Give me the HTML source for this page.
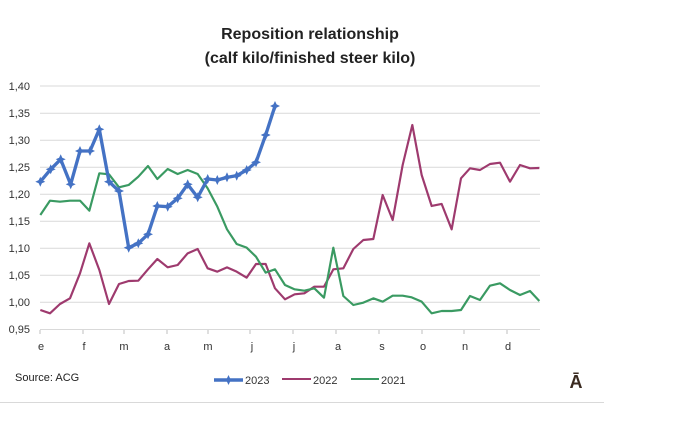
<!DOCTYPE html>
<html><head><meta charset="utf-8"><style>
html,body{margin:0;padding:0;background:#fff;}
svg{display:block;font-family:"Liberation Sans",Arial,sans-serif;}
</style></head><body>
<svg width="698" height="425" viewBox="0 0 698 425" xmlns="http://www.w3.org/2000/svg">
<defs>
<path id="d" d="M0,-5 L1.6,-1.6 L5,0 L1.6,1.6 L0,5 L-1.6,1.6 L-5,0 L-1.6,-1.6Z"/>
</defs>
<text x="310" y="39" text-anchor="middle" font-size="16" font-weight="bold" fill="#222">Reposition relationship</text>
<text x="310" y="63" text-anchor="middle" font-size="16" font-weight="bold" fill="#222">(calf kilo/finished steer kilo)</text>
<g stroke="#d9d9d9" stroke-width="1">
<line x1="40" x2="540" y1="86" y2="86"/><line x1="40" x2="540" y1="113.3" y2="113.3"/>
<line x1="40" x2="540" y1="140.3" y2="140.3"/><line x1="40" x2="540" y1="167.3" y2="167.3"/>
<line x1="40" x2="540" y1="194.3" y2="194.3"/><line x1="40" x2="540" y1="221.3" y2="221.3"/>
<line x1="40" x2="540" y1="248.3" y2="248.3"/><line x1="40" x2="540" y1="275.3" y2="275.3"/>
<line x1="40" x2="540" y1="302.3" y2="302.3"/><line x1="40" x2="540" y1="329.5" y2="329.5"/>
<g stroke="#bfbfbf"><line x1="40" x2="40" y1="330" y2="334"/><line x1="83" x2="83" y1="330" y2="334"/><line x1="124" x2="124" y1="330" y2="334"/><line x1="167" x2="167" y1="330" y2="334"/><line x1="208" x2="208" y1="330" y2="334"/><line x1="250" x2="250" y1="330" y2="334"/><line x1="293" x2="293" y1="330" y2="334"/><line x1="336" x2="336" y1="330" y2="334"/><line x1="379" x2="379" y1="330" y2="334"/><line x1="422" x2="422" y1="330" y2="334"/><line x1="464" x2="464" y1="330" y2="334"/><line x1="507" x2="507" y1="330" y2="334"/></g>
</g>
<g font-size="11" fill="#333" text-anchor="end">
<text x="30" y="90">1,40</text><text x="30" y="117">1,35</text><text x="30" y="144">1,30</text><text x="30" y="171">1,25</text><text x="30" y="198">1,20</text><text x="30" y="225">1,15</text><text x="30" y="252">1,10</text><text x="30" y="279">1,05</text><text x="30" y="306">1,00</text><text x="30" y="333">0,95</text>
</g>
<g font-size="11" fill="#333" text-anchor="middle">
<text x="41" y="350">e</text><text x="84" y="350">f</text><text x="124" y="350">m</text><text x="167" y="350">a</text><text x="208" y="350">m</text><text x="252" y="350">j</text><text x="294" y="350">j</text><text x="338" y="350">a</text><text x="382" y="350">s</text><text x="423" y="350">o</text><text x="465" y="350">n</text><text x="508" y="350">d</text>
</g>
<g transform="translate(0,70) scale(0.33333)" fill="none" stroke-linejoin="round">
<polyline stroke="#9e3a6e" stroke-width="6.5" points="121,720 150,730 180,702 210,685 240,610 268,520 298,600 327,702 357,642 386,633 415,632 444,598 472,567 503,592 533,585 563,550 593,537 623,595 652,605 681,592 710,605 740,623 768,582 797,582 825,655 855,688 884,673 913,670 943,650 972,650 1000,598 1030,595 1060,537 1090,510 1120,507 1148,375 1178,450 1208,285 1237,165 1265,315 1295,408 1325,402 1355,478 1383,325 1410,295 1440,300 1470,282 1500,278 1530,335 1560,285 1590,295 1618,294"/>
<polyline stroke="#3a9a62" stroke-width="6.5" points="121,435 150,392 180,395 210,392 240,392 268,422 298,310 327,313 357,352 386,345 415,320 444,288 472,327 503,297 533,312 563,300 593,312 623,355 652,410 681,478 710,522 740,533 768,560 797,608 825,598 855,645 884,658 913,662 943,655 972,683 1000,533 1030,678 1060,705 1090,698 1120,685 1148,695 1178,677 1208,677 1235,682 1265,695 1295,730 1325,723 1355,723 1383,720 1410,678 1440,690 1470,647 1500,640 1530,660 1560,675 1590,663 1618,693"/>
<polyline stroke="#4472c4" stroke-width="10" points="121,335 152,298 182,268 212,343 240,243 270,243 298,178 327,335 357,363 386,533 415,520 444,493 472,408 503,410 533,385 563,343 593,382 623,327 652,330 681,322 710,317 740,300 768,277 797,195 825,108"/>
</g>
<g fill="#4472c4">
<use href="#d" x="40.3" y="181.7"/><use href="#d" x="50.7" y="169.3"/><use href="#d" x="60.7" y="159.3"/><use href="#d" x="70.7" y="184.3"/><use href="#d" x="80" y="151"/><use href="#d" x="90" y="151"/><use href="#d" x="99.3" y="129.3"/><use href="#d" x="109" y="181.7"/><use href="#d" x="119" y="191"/><use href="#d" x="128.7" y="247.7"/><use href="#d" x="138.3" y="243.3"/><use href="#d" x="148" y="234.3"/><use href="#d" x="157.3" y="206"/><use href="#d" x="167.7" y="206.7"/><use href="#d" x="177.7" y="198.3"/><use href="#d" x="187.7" y="184.3"/><use href="#d" x="197.7" y="197.3"/><use href="#d" x="207.7" y="179"/><use href="#d" x="217.3" y="180"/><use href="#d" x="227" y="177.3"/><use href="#d" x="236.7" y="175.7"/><use href="#d" x="246.7" y="170"/><use href="#d" x="256" y="162.3"/><use href="#d" x="265.7" y="135"/><use href="#d" x="275" y="106"/>
</g>
<text x="15" y="381" font-size="11" fill="#222">Source: ACG</text>
<line x1="214" x2="243" y1="380" y2="380" stroke="#4472c4" stroke-width="3.5"/>
<use href="#d" x="228.5" y="380" fill="#4472c4"/>
<text x="245" y="384" font-size="11" fill="#333">2023</text>
<line x1="282" x2="311" y1="379" y2="379" stroke="#9e3a6e" stroke-width="2"/>
<text x="313" y="384" font-size="11" fill="#333">2022</text>
<line x1="351" x2="379" y1="379" y2="379" stroke="#3a9a62" stroke-width="2"/>
<text x="381" y="384" font-size="11" fill="#333">2021</text>
<text x="576" y="388" font-size="18" font-weight="bold" fill="#3a2a20" text-anchor="middle">Ā</text>
<line x1="0" x2="604" y1="402.5" y2="402.5" stroke="#d9d9d9" stroke-width="1"/>
</svg>
</body></html>
